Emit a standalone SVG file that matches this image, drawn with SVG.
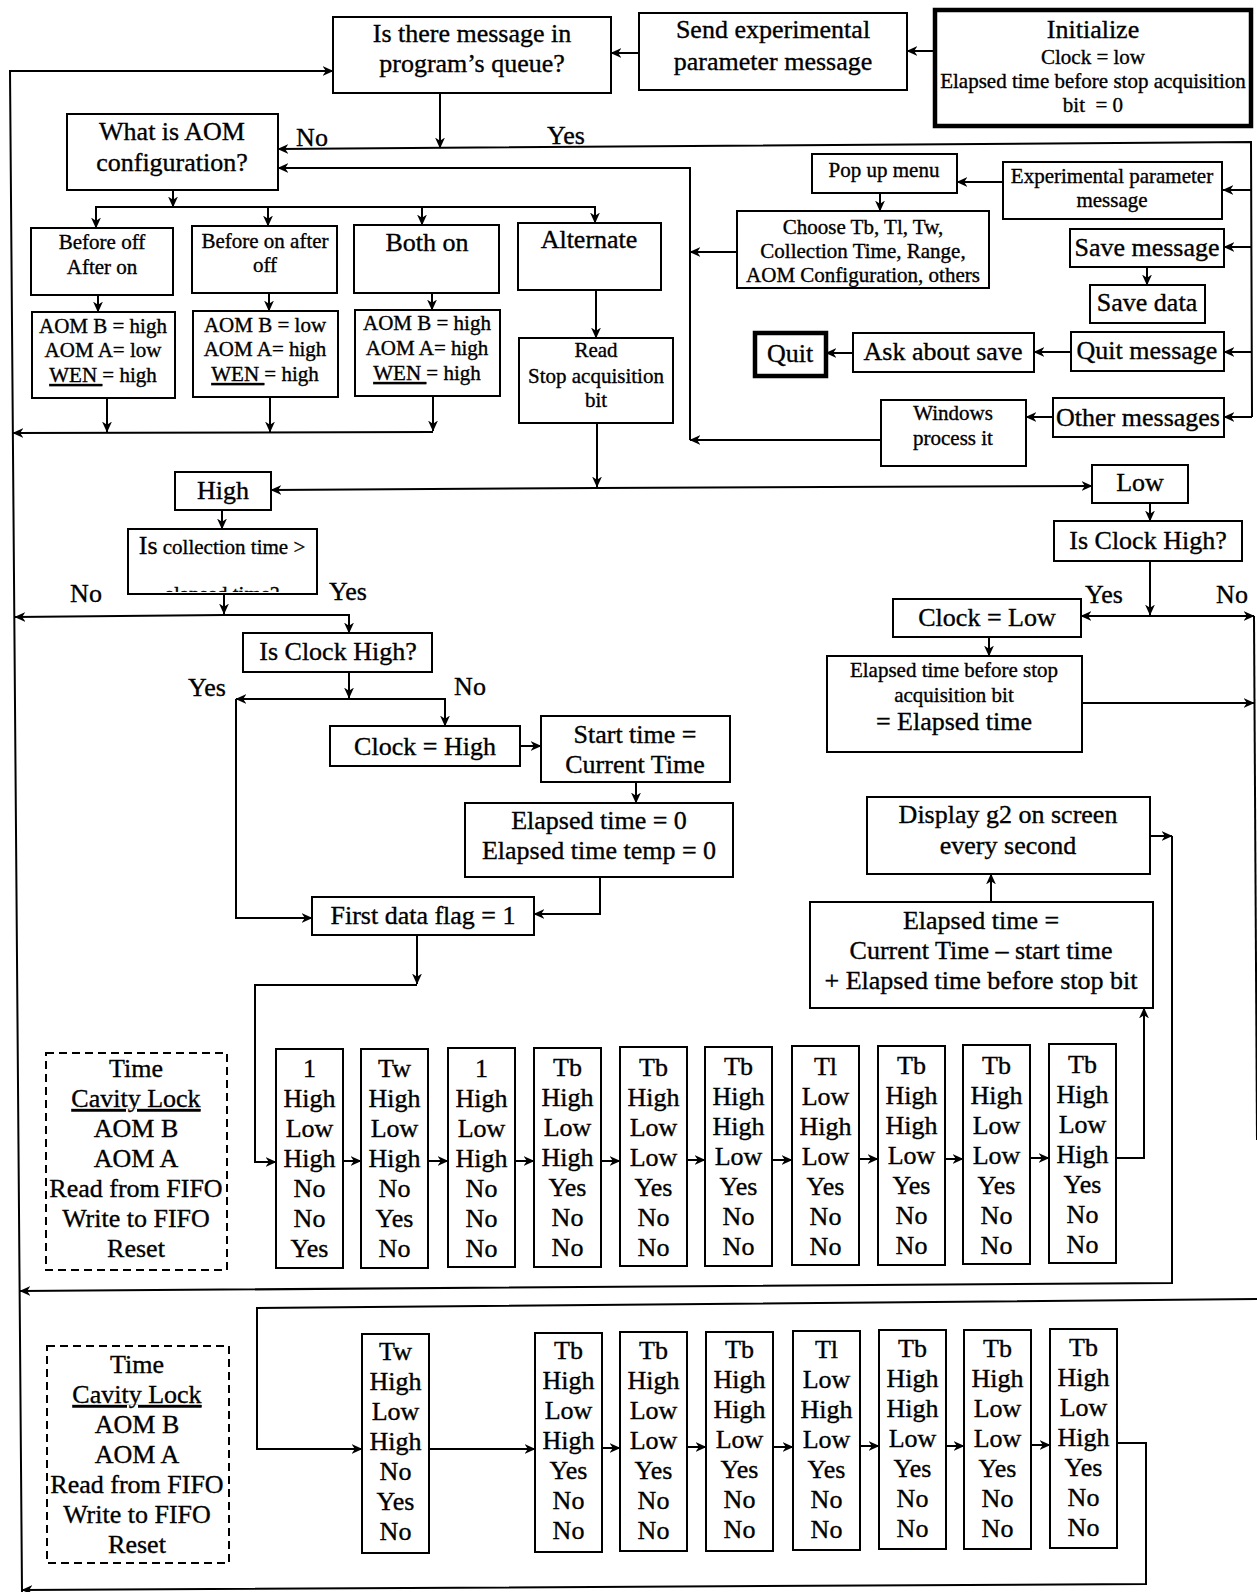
<svg xmlns="http://www.w3.org/2000/svg" width="1257" height="1592" viewBox="0 0 1257 1592">
<style>
.b{fill:#fff;stroke:#000;stroke-width:2}
.bt{fill:#fff;stroke:#000;stroke-width:4.5}
.d{fill:#fff;stroke:#000;stroke-width:2;stroke-dasharray:8 5}
.c{fill:none;stroke:#000;stroke-width:2;marker-end:url(#ah)}
.l{fill:none;stroke:#000;stroke-width:2}
text{font-family:"Liberation Serif","Times New Roman",serif;fill:#000;stroke:#000;stroke-width:0.35;text-anchor:middle}
.t26{font-size:26px}
.t21{font-size:21px}
.u{text-decoration:underline}
</style>
<defs>
<marker id="ah" viewBox="0 0 10 10" refX="9.5" refY="5" markerWidth="11" markerHeight="11" markerUnits="userSpaceOnUse" orient="auto">
<path d="M0,0.5 L10,5 L0,9.5 L3,5 Z" fill="#000"/>
</marker>
<clipPath id="cutCollect"><rect x="128" y="529" width="189" height="63"/></clipPath>
</defs>
<rect width="1257" height="1592" fill="#fff"/>

<!-- connectors -->
<g id="connectors">
<path class="c" d="M22,1592 L10,71 H333"/>
<path class="c" d="M935,51 H907"/>
<path class="c" d="M639,53 H611"/>
<path class="c" d="M440,93 V148"/>
<path class="c" d="M1252,417 L1251,142 L278,149"/>
<path class="c" d="M1252,190 H1223"/>
<path class="c" d="M1252,247 H1224"/>
<path class="c" d="M1252,352 H1224"/>
<path class="c" d="M1252,417 H1224"/>
<path class="c" d="M1003,182 H957"/>
<path class="c" d="M880,193 V211"/>
<path class="c" d="M1147,267 V285"/>
<path class="c" d="M1071,352 H1034"/>
<path class="c" d="M853,353 H826"/>
<path class="c" d="M1053,417 H1026"/>
<path class="c" d="M737,252 H690"/>
<path class="c" d="M881,440 H690"/>
<path class="c" d="M690,440 V168 H278"/>

<path class="c" d="M173,190 V207"/>
<path class="c" d="M173,207 H96 V228"/>
<path class="c" d="M173,207 H595 V223"/>
<path class="c" d="M268,207 V226"/>
<path class="c" d="M422,207 V225"/>
<path class="c" d="M98,295 V312"/>
<path class="c" d="M269,293 V311"/>
<path class="c" d="M432,293 V310"/>
<path class="c" d="M107,398 V432"/>
<path class="c" d="M270,397 V432"/>
<path class="c" d="M433,396 V431"/>
<path class="c" d="M433,432 L13,433"/>
<path class="c" d="M596,290 V338"/>
<path class="c" d="M597,423 V487"/>
<path class="c" d="M597,488 L271,490"/>
<path class="c" d="M597,488 L1092,486"/>

<path class="c" d="M222,510 V529"/>
<path class="c" d="M224,594 V614"/>
<path class="c" d="M224,615 L15,617"/>
<path class="c" d="M224,615 H349 V633"/>
<path class="c" d="M349,672 V698"/>
<path class="c" d="M349,699 H236"/>
<path class="c" d="M349,699 H445 V726"/>
<path class="c" d="M236,699 V918 H312"/>
<path class="c" d="M520,746 H541"/>
<path class="c" d="M636,782 V803"/>
<path class="c" d="M600,877 V914 H534"/>
<path class="c" d="M417,935 V984"/>
<path class="c" d="M417,985 H255 V1162 H276"/>

<path class="c" d="M1150,503 V521"/>
<path class="c" d="M1150,561 V615"/>
<path class="c" d="M1150,616 H1081"/>
<path class="c" d="M1150,616 H1254"/>
<path class="l" d="M1254,616 L1257,1140"/>
<path class="c" d="M989,637 V656"/>
<path class="c" d="M1082,703 H1254"/>
<path class="c" d="M1150,836 H1172"/>
<path class="c" d="M1172,836 V1283 L20,1291"/>
<path class="c" d="M991,902 V874"/>
<path class="c" d="M1116,1158 H1144 V1008"/>

<path class="c" d="M343,1161 H361"/>
<path class="c" d="M428,1161 H448"/>
<path class="c" d="M515,1161 H534"/>
<path class="c" d="M601,1161 H620"/>
<path class="c" d="M687,1160 H705"/>
<path class="c" d="M772,1160 H792"/>
<path class="c" d="M859,1159 H878"/>
<path class="c" d="M945,1159 H963"/>
<path class="c" d="M1030,1158 H1049"/>

<path class="c" d="M1257,1299 L257,1308 V1449 H362"/>
<path class="c" d="M429,1449 H535"/>
<path class="c" d="M602,1448 H620"/>
<path class="c" d="M687,1447 H706"/>
<path class="c" d="M773,1447 H793"/>
<path class="c" d="M860,1446 H879"/>
<path class="c" d="M946,1446 H964"/>
<path class="c" d="M1031,1445 H1050"/>
<path class="c" d="M1117,1443 H1146 V1584 L22,1590"/>
</g>

<!-- branch labels -->
<g id="labels" class="t26">
<text x="312" y="146">No</text>
<text x="566" y="144">Yes</text>
<text x="86" y="602">No</text>
<text x="348" y="600">Yes</text>
<text x="207" y="696">Yes</text>
<text x="470" y="695">No</text>
<text x="1104" y="603">Yes</text>
<text x="1232" y="603">No</text>
</g>

<!-- top row -->
<g id="queue"><rect class="b" x="333" y="17" width="278" height="76"/>
<text class="t26" x="472" y="42">Is there message in</text>
<text class="t26" x="472" y="72">program’s queue?</text></g>

<g id="send-param"><rect class="b" x="639" y="13" width="268" height="77"/>
<text class="t26" x="773" y="38">Send experimental</text>
<text class="t26" x="773" y="70">parameter message</text></g>

<g id="initialize"><rect class="bt" x="935" y="10" width="316" height="116"/>
<text class="t26" x="1093" y="38">Initialize</text>
<text class="t21" x="1093" y="64">Clock = low</text>
<text class="t21" x="1093" y="88">Elapsed time before stop acquisition</text>
<text class="t21" x="1093" y="112">bit &#160;= 0</text></g>

<!-- AOM configuration branch -->
<g id="aom-config"><rect class="b" x="67" y="114" width="211" height="76"/>
<text class="t26" x="172" y="140">What is AOM</text>
<text class="t26" x="172" y="171">configuration?</text></g>

<g id="cfg-before-off"><rect class="b" x="31" y="228" width="142" height="67"/>
<text class="t21" x="102" y="249">Before off</text>
<text class="t21" x="102" y="274">After on</text></g>
<g id="cfg-before-on"><rect class="b" x="192" y="226" width="145" height="67"/>
<text class="t21" x="265" y="248">Before on after</text>
<text class="t21" x="265" y="272">off</text></g>
<g id="cfg-both-on"><rect class="b" x="354" y="225" width="145" height="68"/>
<text class="t26" x="427" y="251">Both on</text></g>
<g id="cfg-alternate"><rect class="b" x="518" y="223" width="143" height="67"/>
<text class="t26" x="589" y="248">Alternate</text></g>

<g id="out-before-off"><rect class="b" x="32" y="312" width="143" height="86"/>
<text class="t21" x="103" y="333">AOM B = high</text>
<text class="t21" x="103" y="357">AOM A= low</text>
<text class="t21" x="103" y="382"><tspan class="u">WEN </tspan>= high</text></g>
<g id="out-before-on"><rect class="b" x="193" y="311" width="145" height="86"/>
<text class="t21" x="265" y="332">AOM B = low</text>
<text class="t21" x="265" y="356">AOM A= high</text>
<text class="t21" x="265" y="381"><tspan class="u">WEN </tspan>= high</text></g>
<g id="out-both-on"><rect class="b" x="355" y="310" width="145" height="86"/>
<text class="t21" x="427" y="330">AOM B = high</text>
<text class="t21" x="427" y="355">AOM A= high</text>
<text class="t21" x="427" y="380"><tspan class="u">WEN </tspan>= high</text></g>

<g id="read-stop"><rect class="b" x="519" y="338" width="154" height="85"/>
<text class="t21" x="596" y="357">Read</text>
<text class="t21" x="596" y="383">Stop acquisition</text>
<text class="t21" x="596" y="407">bit</text></g>

<!-- message handling -->
<g id="popup"><rect class="b" x="812" y="154" width="145" height="39"/>
<text class="t21" x="884" y="177">Pop up menu</text></g>
<g id="exp-param-msg"><rect class="b" x="1003" y="162" width="219" height="57"/>
<text class="t21" x="1112" y="183">Experimental parameter</text>
<text class="t21" x="1112" y="207">message</text></g>
<g id="choose"><rect class="b" x="737" y="211" width="252" height="77"/>
<text class="t21" x="863" y="234">Choose Tb, Tl, Tw,</text>
<text class="t21" x="863" y="258">Collection Time, Range,</text>
<text class="t21" x="863" y="282">AOM Configuration, others</text></g>
<g id="save-msg"><rect class="b" x="1070" y="229" width="154" height="38"/>
<text class="t26" x="1147" y="256">Save message</text></g>
<g id="save-data"><rect class="b" x="1090" y="285" width="115" height="38"/>
<text class="t26" x="1147" y="311">Save data</text></g>
<g id="quit-msg"><rect class="b" x="1071" y="332" width="153" height="39"/>
<text class="t26" x="1147" y="359">Quit message</text></g>
<g id="ask-save"><rect class="b" x="853" y="333" width="181" height="39"/>
<text class="t26" x="943" y="360">Ask about save</text></g>
<g id="quit"><rect class="bt" x="755" y="333" width="71" height="43"/>
<text class="t26" x="790" y="362">Quit</text></g>
<g id="other-msg"><rect class="b" x="1053" y="398" width="171" height="39"/>
<text class="t26" x="1138" y="426">Other messages</text></g>
<g id="windows"><rect class="b" x="881" y="400" width="145" height="66"/>
<text class="t21" x="953" y="420">Windows</text>
<text class="t21" x="953" y="445">process it</text></g>

<!-- stop acquisition bit branches -->
<g id="high"><rect class="b" x="175" y="472" width="96" height="38"/>
<text class="t26" x="223" y="499">High</text></g>
<g id="low"><rect class="b" x="1092" y="465" width="96" height="38"/>
<text class="t26" x="1140" y="491">Low</text></g>

<g id="collect-check"><rect class="b" x="128" y="529" width="189" height="65"/>
<text class="t21" x="222" y="554"><tspan font-size="26">Is</tspan> collection time &gt;</text>
<text class="t21" x="222" y="601" clip-path="url(#cutCollect)">elapsed time?</text></g>

<g id="clock-high-q"><rect class="b" x="243" y="633" width="189" height="39"/>
<text class="t26" x="338" y="660">Is Clock High?</text></g>
<g id="clock-set-high"><rect class="b" x="330" y="726" width="190" height="40"/>
<text class="t26" x="425" y="755">Clock = High</text></g>
<g id="start-time"><rect class="b" x="541" y="716" width="189" height="66"/>
<text class="t26" x="635" y="743">Start time =</text>
<text class="t26" x="635" y="773">Current Time</text></g>
<g id="elapsed-zero"><rect class="b" x="465" y="803" width="268" height="74"/>
<text class="t26" x="599" y="829">Elapsed time = 0</text>
<text class="t26" x="599" y="859">Elapsed time temp = 0</text></g>
<g id="first-flag"><rect class="b" x="312" y="897" width="222" height="38"/>
<text class="t26" x="423" y="924">First data flag = 1</text></g>

<g id="clock-high-q2"><rect class="b" x="1054" y="521" width="188" height="40"/>
<text class="t26" x="1148" y="549">Is Clock High?</text></g>
<g id="clock-set-low"><rect class="b" x="893" y="599" width="188" height="38"/>
<text class="t26" x="987" y="626">Clock = Low</text></g>
<g id="elapsed-save"><rect class="b" x="827" y="656" width="255" height="96"/>
<text class="t21" x="954" y="677">Elapsed time before stop</text>
<text class="t21" x="954" y="702">acquisition bit</text>
<text class="t26" x="954" y="730">= Elapsed time</text></g>
<g id="display"><rect class="b" x="867" y="797" width="283" height="77"/>
<text class="t26" x="1008" y="823">Display g2 on screen</text>
<text class="t26" x="1008" y="854">every second</text></g>
<g id="elapsed-calc"><rect class="b" x="810" y="902" width="343" height="106"/>
<text class="t26" x="981" y="929">Elapsed time =</text>
<text class="t26" x="981" y="959">Current Time – start time</text>
<text class="t26" x="981" y="989">+ Elapsed time before stop bit</text></g>

<!-- legend blocks -->
<g id="legend-1"><rect class="d" x="46" y="1053" width="181" height="217"/>
<text class="t26" x="136" y="1077"><tspan x="136">Time</tspan><tspan x="136" dy="30" class="u">Cavity Lock</tspan><tspan x="136" dy="30">AOM B</tspan><tspan x="136" dy="30">AOM A</tspan><tspan x="136" dy="30">Read from FIFO</tspan><tspan x="136" dy="30">Write to FIFO</tspan><tspan x="136" dy="30">Reset</tspan></text></g>
<g id="legend-2"><rect class="d" x="47" y="1346" width="182" height="217"/>
<text class="t26" x="137" y="1373"><tspan x="137">Time</tspan><tspan x="137" dy="30" class="u">Cavity Lock</tspan><tspan x="137" dy="30">AOM B</tspan><tspan x="137" dy="30">AOM A</tspan><tspan x="137" dy="30">Read from FIFO</tspan><tspan x="137" dy="30">Write to FIFO</tspan><tspan x="137" dy="30">Reset</tspan></text></g>

<!-- first sequence -->
<g id="seq1-1"><rect class="b" x="276" y="1049" width="67" height="219"/>
<text class="t26" y="1077"><tspan x="309.5">1</tspan><tspan x="309.5" dy="30">High</tspan><tspan x="309.5" dy="30">Low</tspan><tspan x="309.5" dy="30">High</tspan><tspan x="309.5" dy="30">No</tspan><tspan x="309.5" dy="30">No</tspan><tspan x="309.5" dy="30">Yes</tspan></text></g>
<g id="seq1-2"><rect class="b" x="361" y="1049" width="67" height="219"/>
<text class="t26" y="1077"><tspan x="394.5">Tw</tspan><tspan x="394.5" dy="30">High</tspan><tspan x="394.5" dy="30">Low</tspan><tspan x="394.5" dy="30">High</tspan><tspan x="394.5" dy="30">No</tspan><tspan x="394.5" dy="30">Yes</tspan><tspan x="394.5" dy="30">No</tspan></text></g>
<g id="seq1-3"><rect class="b" x="448" y="1048" width="67" height="219"/>
<text class="t26" y="1077"><tspan x="481.5">1</tspan><tspan x="481.5" dy="30">High</tspan><tspan x="481.5" dy="30">Low</tspan><tspan x="481.5" dy="30">High</tspan><tspan x="481.5" dy="30">No</tspan><tspan x="481.5" dy="30">No</tspan><tspan x="481.5" dy="30">No</tspan></text></g>
<g id="seq1-4"><rect class="b" x="534" y="1048" width="67" height="219"/>
<text class="t26" y="1076"><tspan x="567.5">Tb</tspan><tspan x="567.5" dy="30">High</tspan><tspan x="567.5" dy="30">Low</tspan><tspan x="567.5" dy="30">High</tspan><tspan x="567.5" dy="30">Yes</tspan><tspan x="567.5" dy="30">No</tspan><tspan x="567.5" dy="30">No</tspan></text></g>
<g id="seq1-5"><rect class="b" x="620" y="1047" width="67" height="219"/>
<text class="t26" y="1076"><tspan x="653.5">Tb</tspan><tspan x="653.5" dy="30">High</tspan><tspan x="653.5" dy="30">Low</tspan><tspan x="653.5" dy="30">Low</tspan><tspan x="653.5" dy="30">Yes</tspan><tspan x="653.5" dy="30">No</tspan><tspan x="653.5" dy="30">No</tspan></text></g>
<g id="seq1-6"><rect class="b" x="705" y="1047" width="67" height="219"/>
<text class="t26" y="1075"><tspan x="738.5">Tb</tspan><tspan x="738.5" dy="30">High</tspan><tspan x="738.5" dy="30">High</tspan><tspan x="738.5" dy="30">Low</tspan><tspan x="738.5" dy="30">Yes</tspan><tspan x="738.5" dy="30">No</tspan><tspan x="738.5" dy="30">No</tspan></text></g>
<g id="seq1-7"><rect class="b" x="792" y="1046" width="67" height="219"/>
<text class="t26" y="1075"><tspan x="825.5">Tl</tspan><tspan x="825.5" dy="30">Low</tspan><tspan x="825.5" dy="30">High</tspan><tspan x="825.5" dy="30">Low</tspan><tspan x="825.5" dy="30">Yes</tspan><tspan x="825.5" dy="30">No</tspan><tspan x="825.5" dy="30">No</tspan></text></g>
<g id="seq1-8"><rect class="b" x="878" y="1046" width="67" height="219"/>
<text class="t26" y="1074"><tspan x="911.5">Tb</tspan><tspan x="911.5" dy="30">High</tspan><tspan x="911.5" dy="30">High</tspan><tspan x="911.5" dy="30">Low</tspan><tspan x="911.5" dy="30">Yes</tspan><tspan x="911.5" dy="30">No</tspan><tspan x="911.5" dy="30">No</tspan></text></g>
<g id="seq1-9"><rect class="b" x="963" y="1045" width="67" height="219"/>
<text class="t26" y="1074"><tspan x="996.5">Tb</tspan><tspan x="996.5" dy="30">High</tspan><tspan x="996.5" dy="30">Low</tspan><tspan x="996.5" dy="30">Low</tspan><tspan x="996.5" dy="30">Yes</tspan><tspan x="996.5" dy="30">No</tspan><tspan x="996.5" dy="30">No</tspan></text></g>
<g id="seq1-10"><rect class="b" x="1049" y="1044" width="67" height="219"/>
<text class="t26" y="1073"><tspan x="1082.5">Tb</tspan><tspan x="1082.5" dy="30">High</tspan><tspan x="1082.5" dy="30">Low</tspan><tspan x="1082.5" dy="30">High</tspan><tspan x="1082.5" dy="30">Yes</tspan><tspan x="1082.5" dy="30">No</tspan><tspan x="1082.5" dy="30">No</tspan></text></g>

<!-- alternate sequence -->
<g id="seq2-1"><rect class="b" x="362" y="1334" width="67" height="219"/>
<text class="t26" y="1360"><tspan x="395.5">Tw</tspan><tspan x="395.5" dy="30">High</tspan><tspan x="395.5" dy="30">Low</tspan><tspan x="395.5" dy="30">High</tspan><tspan x="395.5" dy="30">No</tspan><tspan x="395.5" dy="30">Yes</tspan><tspan x="395.5" dy="30">No</tspan></text></g>
<g id="seq2-2"><rect class="b" x="535" y="1333" width="67" height="219"/>
<text class="t26" y="1359"><tspan x="568.5">Tb</tspan><tspan x="568.5" dy="30">High</tspan><tspan x="568.5" dy="30">Low</tspan><tspan x="568.5" dy="30">High</tspan><tspan x="568.5" dy="30">Yes</tspan><tspan x="568.5" dy="30">No</tspan><tspan x="568.5" dy="30">No</tspan></text></g>
<g id="seq2-3"><rect class="b" x="620" y="1332" width="67" height="219"/>
<text class="t26" y="1359"><tspan x="653.5">Tb</tspan><tspan x="653.5" dy="30">High</tspan><tspan x="653.5" dy="30">Low</tspan><tspan x="653.5" dy="30">Low</tspan><tspan x="653.5" dy="30">Yes</tspan><tspan x="653.5" dy="30">No</tspan><tspan x="653.5" dy="30">No</tspan></text></g>
<g id="seq2-4"><rect class="b" x="706" y="1332" width="67" height="219"/>
<text class="t26" y="1358"><tspan x="739.5">Tb</tspan><tspan x="739.5" dy="30">High</tspan><tspan x="739.5" dy="30">High</tspan><tspan x="739.5" dy="30">Low</tspan><tspan x="739.5" dy="30">Yes</tspan><tspan x="739.5" dy="30">No</tspan><tspan x="739.5" dy="30">No</tspan></text></g>
<g id="seq2-5"><rect class="b" x="793" y="1331" width="67" height="219"/>
<text class="t26" y="1358"><tspan x="826.5">Tl</tspan><tspan x="826.5" dy="30">Low</tspan><tspan x="826.5" dy="30">High</tspan><tspan x="826.5" dy="30">Low</tspan><tspan x="826.5" dy="30">Yes</tspan><tspan x="826.5" dy="30">No</tspan><tspan x="826.5" dy="30">No</tspan></text></g>
<g id="seq2-6"><rect class="b" x="879" y="1330" width="67" height="219"/>
<text class="t26" y="1357"><tspan x="912.5">Tb</tspan><tspan x="912.5" dy="30">High</tspan><tspan x="912.5" dy="30">High</tspan><tspan x="912.5" dy="30">Low</tspan><tspan x="912.5" dy="30">Yes</tspan><tspan x="912.5" dy="30">No</tspan><tspan x="912.5" dy="30">No</tspan></text></g>
<g id="seq2-7"><rect class="b" x="964" y="1330" width="67" height="219"/>
<text class="t26" y="1357"><tspan x="997.5">Tb</tspan><tspan x="997.5" dy="30">High</tspan><tspan x="997.5" dy="30">Low</tspan><tspan x="997.5" dy="30">Low</tspan><tspan x="997.5" dy="30">Yes</tspan><tspan x="997.5" dy="30">No</tspan><tspan x="997.5" dy="30">No</tspan></text></g>
<g id="seq2-8"><rect class="b" x="1050" y="1329" width="67" height="219"/>
<text class="t26" y="1356"><tspan x="1083.5">Tb</tspan><tspan x="1083.5" dy="30">High</tspan><tspan x="1083.5" dy="30">Low</tspan><tspan x="1083.5" dy="30">High</tspan><tspan x="1083.5" dy="30">Yes</tspan><tspan x="1083.5" dy="30">No</tspan><tspan x="1083.5" dy="30">No</tspan></text></g>
</svg>
